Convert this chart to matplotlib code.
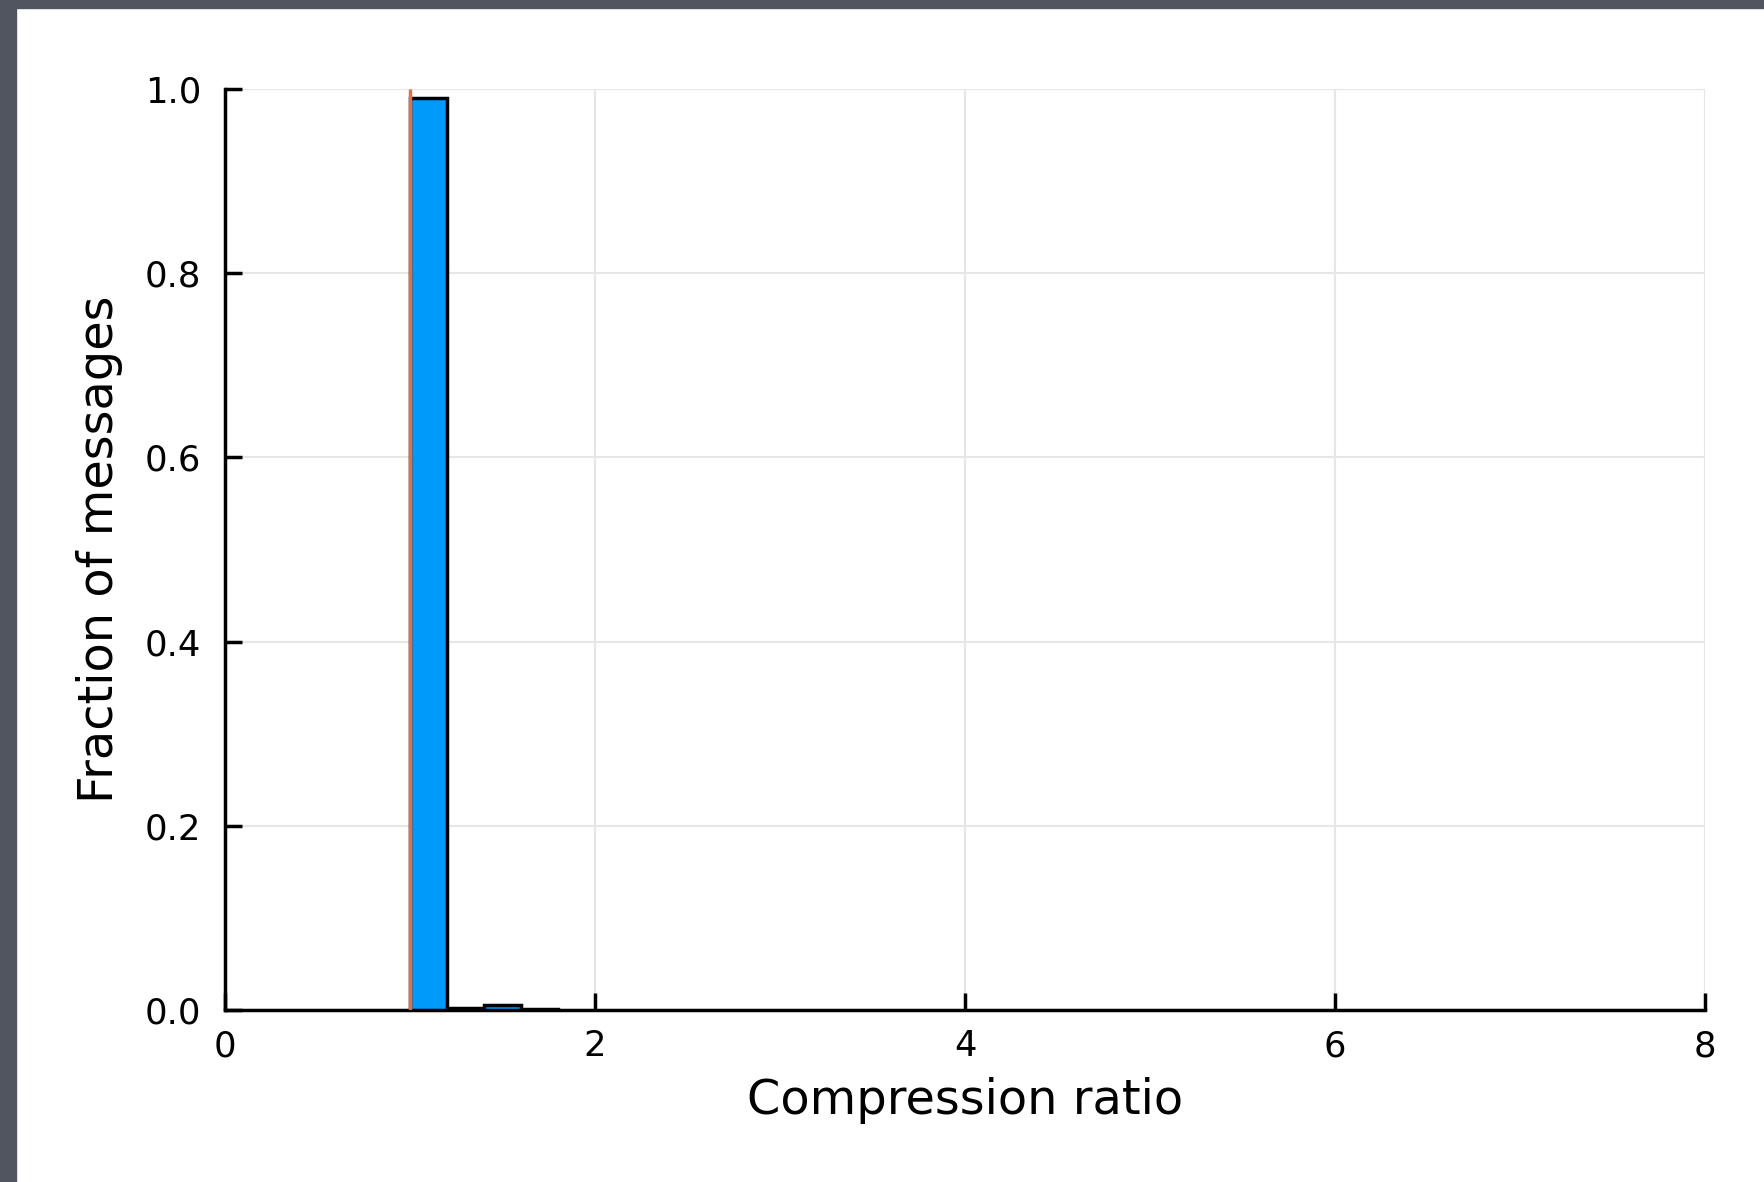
import matplotlib
matplotlib.use("Agg")
import matplotlib.pyplot as plt
from matplotlib.patches import Rectangle

# Data
bin_edges = [1.0, 1.2, 1.4, 1.6, 1.8]
fractions = [0.990, 0.002, 0.005, 0.001]
ref_line_x = 1.0
xticks = [0, 2, 4, 6, 8]
yticks = [0.0, 0.2, 0.4, 0.6, 0.8, 1.0]
ytick_labels = ["0.0", "0.2", "0.4", "0.6", "0.8", "1.0"]

W, H = 1765, 1182
fig = plt.figure(figsize=(W / 100, H / 100), dpi=100)
fig.patch.set_facecolor("white")
# dark window frame on left and top
fig.patches.append(Rectangle((0, 0), 16 / W, 1, transform=fig.transFigure,
                             color="#51555f", zorder=-1))
fig.patches.append(Rectangle((0, 1 - 8 / H), 1, 8 / H, transform=fig.transFigure,
                             color="#51555f", zorder=-1))

ax = fig.add_axes([225 / W, 1 - 1010 / H, (1705 - 225) / W, (1010 - 89) / H])

widths = [bin_edges[i + 1] - bin_edges[i] for i in range(len(fractions))]
ax.bar(bin_edges[:-1], fractions, width=widths, align="edge",
       color="#009afa", edgecolor="black", linewidth=2.5, zorder=3)
ax.vlines(ref_line_x, 0, 1.0, color="#e26f46", linewidth=2.5, zorder=4)

ax.set_xlim(0, 8)
ax.set_ylim(0, 1.0)
ax.set_xticks(xticks)
ax.set_xticklabels([str(t) for t in xticks])
ax.set_yticks(yticks)
ax.set_yticklabels(ytick_labels)

for s in ["top", "right"]:
    ax.spines[s].set_visible(False)
for s in ["left", "bottom"]:
    ax.spines[s].set_linewidth(2.5)
    ax.spines[s].set_color("black")

ax.grid(True, color="#e6e6e6", linewidth=1.5, zorder=0)
ax.set_axisbelow(True)
ax.tick_params(axis="both", direction="in", length=12, width=2.5,
               labelsize=25.5, colors="black")
ax.tick_params(axis="y", pad=17)
ax.tick_params(axis="x", pad=14)

ax.set_xlabel("Compression ratio", fontsize=34.5, labelpad=10)
ax.set_ylabel("Fraction of messages", fontsize=34.5, labelpad=16)

fig.savefig("out.png", dpi=100, facecolor=fig.get_facecolor())
